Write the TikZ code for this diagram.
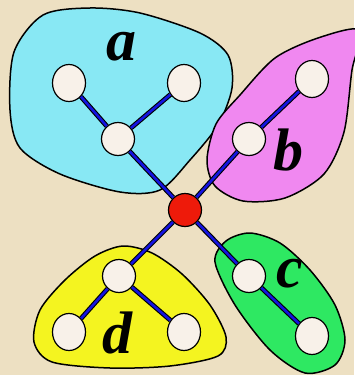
\documentclass[tikz,border=0pt]{standalone}
\usepackage{fontspec}
\setmainfont{Liberation Serif}
\usepackage{tikz}
\usetikzlibrary{shapes.geometric}

\definecolor{parchment}{HTML}{EDE0C2}
\definecolor{cyanblob}{HTML}{88E8F4}
\definecolor{pinkblob}{HTML}{F088F0}
\definecolor{greenblob}{HTML}{2EE862}
\definecolor{yellowblob}{HTML}{F4F420}
\definecolor{vertexfill}{HTML}{F8F1E9}
\definecolor{rootred}{HTML}{EE1A0A}
\definecolor{edgeblue}{HTML}{1414E0}

\tikzset{
  blob/.style={draw=black, line width=1.5pt},
  leaf/.style={ellipse, draw=black, line width=1.2pt, fill=vertexfill,
    minimum width=33pt, minimum height=37pt, inner sep=0pt},
  inner/.style={circle, draw=black, line width=1.2pt, fill=vertexfill,
    minimum size=33pt, inner sep=0pt},
  treeedge/.style={draw=black, line width=1.1pt, double=edgeblue, double distance=2.6pt},
  blobname/.style={font=\fontsize{60}{60}\selectfont\bfseries\itshape, inner sep=0pt}
}

\begin{document}
\begin{tikzpicture}[x=1pt, y=-1pt]
\useasboundingbox (0, 0) rectangle (354, 375);
\fill[parchment] (0, 0) rectangle (354, 375);

% the four groups
\draw[blob, fill=cyanblob] plot[smooth cycle] coordinates {
  (43, 15) (90, 8) (140, 13) (200, 33) (228, 55) (232, 88) (218, 125)
  (190, 160) (160, 190) (120, 192) (60, 174) (20, 148) (10, 110) (14, 52)};
\draw[blob, fill=pinkblob] plot[smooth cycle] coordinates {
  (360, 30) (352, 70) (344, 132) (324, 174) (285, 198) (243, 201)
  (215, 186) (207, 160) (216, 124) (240, 95) (275, 58) (318, 38)};
\draw[blob, fill=greenblob] plot[smooth cycle] coordinates {
  (215, 262) (226, 241) (250, 233) (280, 243) (310, 270) (335, 305)
  (345, 340) (335, 365) (305, 373) (270, 350) (235, 305)};
\draw[blob, fill=yellowblob] plot[smooth cycle] coordinates {
  (123, 246) (152, 253) (182, 274) (210, 305) (226, 337) (218, 356)
  (170, 366) (110, 368) (52, 362) (34, 342) (40, 310) (65, 280) (95, 256)};

\node[blobname] (la) at (121, 47) {a};
\node[blobname] (lb) at (288, 150) {b};
\node[blobname] (lc) at (290, 274) {c};
\node[blobname] (ld) at (117, 333) {d};

% vertices
\node[inner, fill=rootred] (root) at (185, 210) {};
\node[inner] (a0) at (118, 139) {};
\node[leaf] (a1) at (69, 83) {};
\node[leaf] (a2) at (184, 83) {};
\node[inner] (b0) at (249, 139) {};
\node[leaf] (b1) at (312, 79) {};
\node[inner] (c0) at (249, 276) {};
\node[leaf] (c1) at (312, 336) {};
\node[inner] (d0) at (119, 276) {};
\node[leaf] (d1) at (69, 332) {};
\node[leaf] (d2) at (184, 332) {};

% edges
\foreach \u/\v in {root/a0, root/b0, root/c0, root/d0, a0/a1, a0/a2, b0/b1, c0/c1, d0/d1, d0/d2}
  \draw[treeedge] (\u) -- (\v);
\end{tikzpicture}
\end{document}
